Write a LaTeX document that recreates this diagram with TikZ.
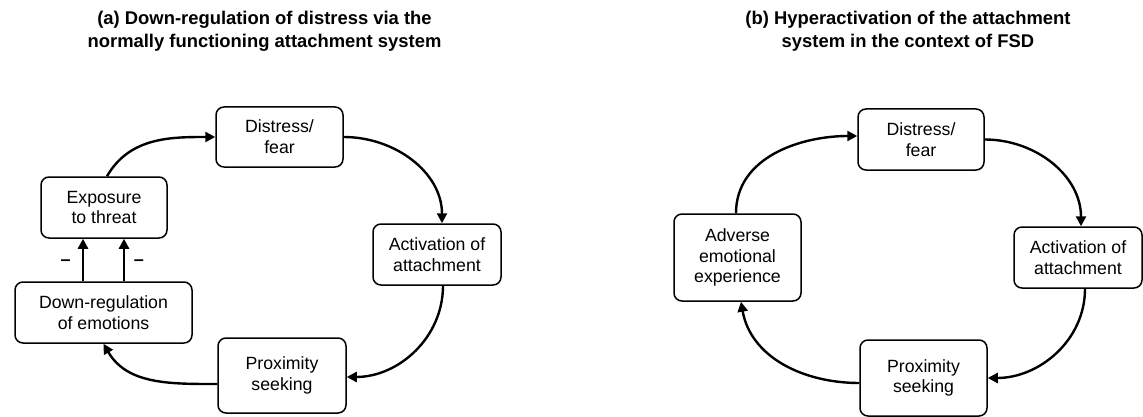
\documentclass[tikz,border=0pt]{standalone}
\usepackage{fontspec}
\setmainfont{Liberation Sans}
\usetikzlibrary{arrows.meta,calc}
\begin{document}
\begin{tikzpicture}[x=1pt,y=-1pt,
  box/.style={draw, line width=1.5pt, rounded corners=8pt, align=center,
    inner sep=0pt, font=\fontsize{17.7}{20.7}\selectfont},
  ttl/.style={align=center, font=\bfseries\fontsize{18.4}{23}\selectfont},
  conn/.style={line width=2.4pt, -{Triangle[length=10pt,width=10pt]}},
  minus/.style={inner sep=0pt, font=\fontsize{18}{20.7}\selectfont}]
\useasboundingbox (0,0) rectangle (1143,417);
% titles
\node[ttl] (ta) at (264.5,31) {(a) Down-regulation of distress via the\\normally functioning attachment system};
\node[ttl] (tb) at (908,31) {(b) Hyperactivation of the attachment\\system in the context of FSD};
% left panel
\node[box, minimum width=127pt, minimum height=60pt] (dist) at (279.5,137) {Distress/\\fear};
\node[box, minimum width=128pt, minimum height=61pt] (act) at (437,254.5) {Activation of\\attachment};
\node[box, minimum width=128pt, minimum height=75pt] (prox) at (282,375.5) {Proximity\\seeking};
\node[box, minimum width=126pt, minimum height=61pt] (expo) at (104,207.5) {Exposure\\to threat};
\node[box, minimum width=177pt, minimum height=61pt] (down) at (103.5,312.5) {Down-regulation\\of emotions};
\draw[conn] ([xshift=3pt]expo.north) to[out=60,in=180] (dist.west);
\draw[conn] (dist.east) to[out=0,in=90] ([xshift=5pt]act.north);
\draw[conn] ([xshift=6pt]act.south) to[out=-90,in=0] ([yshift=-1.5pt]prox.east);
\draw[conn] ([yshift=-8.5pt]prox.west) to[out=180,in=-60] (down.south);
\draw[conn] ([xshift=-20.5pt]down.north) -- ([xshift=-20.5pt]down.north |- expo.south);
\draw[conn] ([xshift=20.5pt]down.north) -- ([xshift=20.5pt]down.north |- expo.south);
\node[minus] (m1) at (65.7,263) {\bfseries –};
\node[minus] (m2) at (139,263) {\bfseries –};
% right panel
\node[box, minimum width=126pt, minimum height=61pt] (dist2) at (921,139.5) {Distress/\\fear};
\node[box, minimum width=128pt, minimum height=61pt] (act2) at (1078,257.5) {Activation of\\attachment};
\node[box, minimum width=127pt, minimum height=76pt] (prox2) at (923.5,378) {Proximity\\seeking};
\node[box, minimum width=127pt, minimum height=87pt] (adv) at (737.5,257.5) {Adverse\\emotional\\experience};
\draw[conn] ([xshift=-1.5pt]adv.north) to[out=90,in=180] ([yshift=3.5pt]dist2.west);
\draw[conn] (dist2.east) to[out=0,in=90] ([xshift=3pt]act2.north);
\draw[conn] ([xshift=7pt]act2.south) to[out=-90,in=0] (prox2.east);
\draw[conn] ([yshift=-5pt]prox2.west) to[out=180,in=-80] ([xshift=3.5pt]adv.south);
\end{tikzpicture}
\end{document}
